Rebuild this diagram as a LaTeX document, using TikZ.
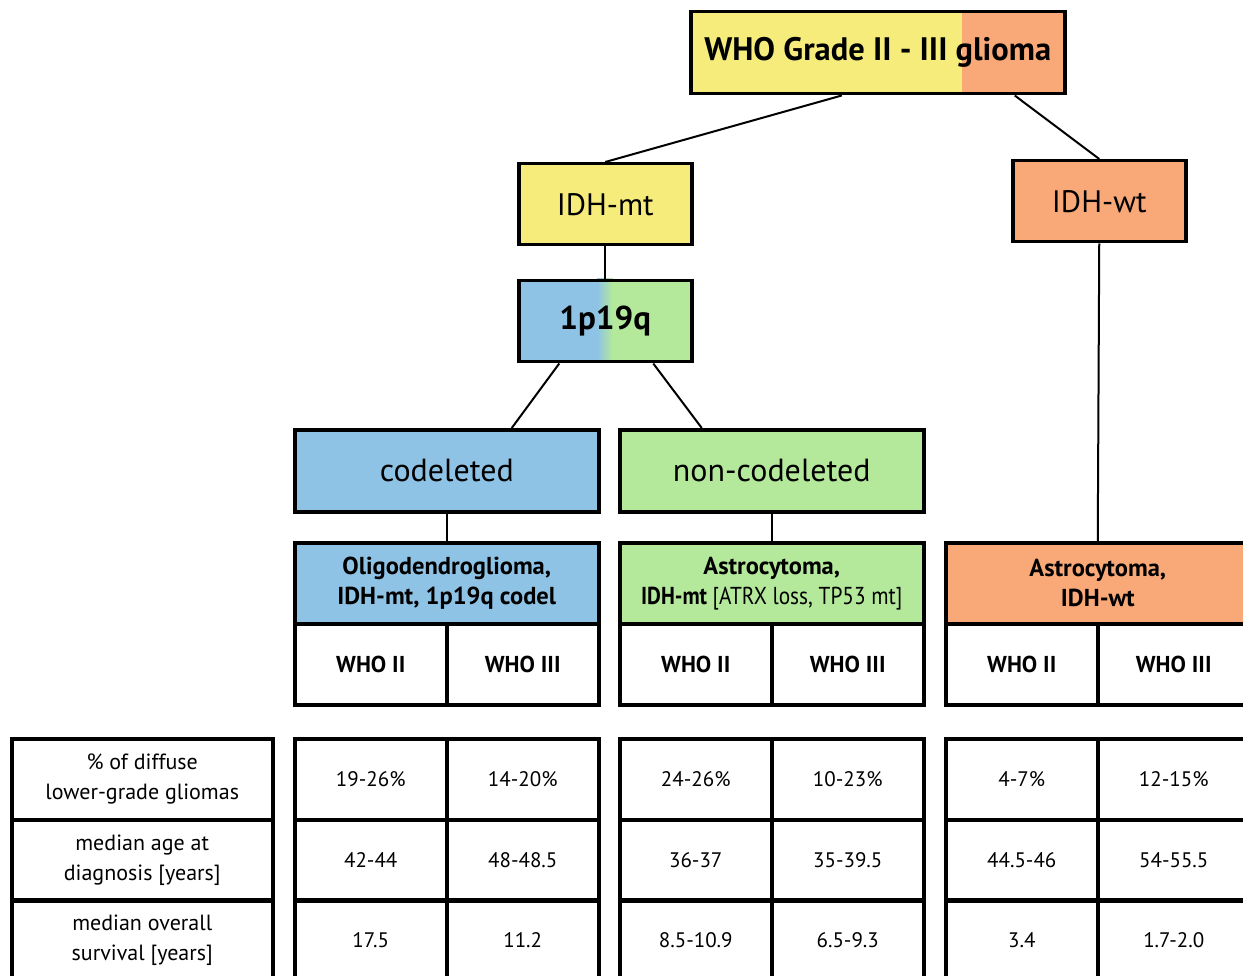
\documentclass[tikz,border=0pt]{standalone}
\usepackage{fontspec}
\usepackage{graphicx}
\setmainfont{PT Sans}
\usetikzlibrary{calc}
\definecolor{gyellow}{HTML}{F6EC7C}
\definecolor{gorange}{HTML}{F9A878}
\definecolor{gblue}{HTML}{8EC3E6}
\definecolor{ggreen}{HTML}{B4E99B}
\begin{document}
\begin{tikzpicture}[x=1pt,y=-1pt,
  box/.style={draw, line width=3.5pt, inner sep=0pt, anchor=north west, align=center},
  bigbox/.style={box, minimum width=173pt, minimum height=81pt, font=\fontsize{31}{36}\selectfont},
  branch/.style={box, minimum width=304pt, minimum height=82pt, font=\fontsize{32}{36}\selectfont},
  head/.style={box, minimum width=304pt, minimum height=81pt, font=\fontsize{24.5}{30}\selectfont\bfseries},
  cell/.style={box, minimum width=152pt, minimum height=81pt, font=\fontsize{21}{30}\selectfont},
  whocell/.style={cell, font=\fontsize{23}{26}\selectfont\bfseries},
  label/.style={box, minimum width=261pt, minimum height=81pt, font=\fontsize{22}{30}\selectfont},
  link/.style={line width=2pt}]
\useasboundingbox (0,0) rectangle (1243,976);
\clip (0,0) rectangle (1243,976);

% title box: yellow with an orange tail
\fill[gyellow] (689,10) rectangle (962,92);
\fill[gorange] (962,10) rectangle (1063,92);
\node[box, minimum width=374pt, minimum height=82pt, font=\fontsize{32.5}{36}\selectfont\bfseries]
  (top) at (689,10) {WHO Grade II - III glioma};

% IDH status
\node[bigbox, fill=gyellow] (mt) at (517,162) {IDH-mt};
\node[bigbox, fill=gorange] (wt) at (1011,159) {IDH-wt};

% 1p19q box: blue fading into green
\fill[gblue] (517,279) rectangle (597,360);
\shade[left color=gblue, right color=ggreen] (597,279) rectangle (613,360);
\fill[ggreen] (613,279) rectangle (690,360);
\node[bigbox, font=\fontsize{33}{36}\selectfont\bfseries] (pq) at (517,279) {1p19q};

% codeletion status
\node[branch, fill=gblue] (cod) at (293,428) {codeleted};
\node[branch, fill=ggreen] (non) at (618,428) {non-codeleted};

% entity headers
\node[head, fill=gblue] (hcod) at (293,541) {Oligodendroglioma,\\IDH-mt, 1p19q codel};
\node[head, fill=ggreen] (hnon) at (618,541)
  {Astrocytoma,\\\scalebox{0.87}[1]{IDH-mt \mdseries[ATRX loss, TP53 mt]}};
\node[head, fill=gorange] (hwt) at (944,541) {Astrocytoma,\\IDH-wt};

% grade cells
\node[whocell] (c2) at (293,622) {WHO II};
\node[whocell] (c3) at (445,622) {WHO III};
\node[whocell] (n2) at (618,622) {WHO II};
\node[whocell] (n3) at (770,622) {WHO III};
\node[whocell] (w2) at (944,622) {WHO II};
\node[whocell] (w3) at (1096,622) {WHO III};

% row labels
\node[label] (l1) at (10,737) {\% of diffuse\\lower-grade gliomas};
\node[label] (l2) at (10,818) {median age at\\diagnosis [years]};
\node[label] (l3) at (10,898) {median overall\\survival [years]};

% values: codeleted oligodendroglioma
\node[cell] (c2a) at (293,737) {19-26\%};
\node[cell] (c3a) at (445,737) {14-20\%};
\node[cell] (c2b) at (293,818) {42-44};
\node[cell] (c3b) at (445,818) {48-48.5};
\node[cell] (c2c) at (293,898) {17.5};
\node[cell] (c3c) at (445,898) {11.2};

% values: IDH-mt astrocytoma
\node[cell] (n2a) at (618,737) {24-26\%};
\node[cell] (n3a) at (770,737) {10-23\%};
\node[cell] (n2b) at (618,818) {36-37};
\node[cell] (n3b) at (770,818) {35-39.5};
\node[cell] (n2c) at (618,898) {8.5-10.9};
\node[cell] (n3c) at (770,898) {6.5-9.3};

% values: IDH-wt astrocytoma
\node[cell] (w2a) at (944,737) {4-7\%};
\node[cell] (w3a) at (1096,737) {12-15\%};
\node[cell] (w2b) at (944,818) {44.5-46};
\node[cell] (w3b) at (1096,818) {54-55.5};
\node[cell] (w2c) at (944,898) {3.4};
\node[cell] (w3c) at (1096,898) {1.7-2.0};

% tree connectors
\draw[link] ([xshift=-36pt]top.south) -- (mt.north);
\draw[link] ([xshift=137pt]top.south) -- (wt.north);
\draw[link] (mt.south) -- (pq.north);
\draw[link] ([xshift=-46pt]pq.south) -- ([xshift=65pt]cod.north);
\draw[link] ([xshift=48pt]pq.south) -- ([xshift=-70pt]non.north);
\draw[link] (cod.south) -- (hcod.north);
\draw[link] (non.south) -- (hnon.north);
\draw[link] (wt.south) -- (hwt.north);
\end{tikzpicture}
\end{document}
